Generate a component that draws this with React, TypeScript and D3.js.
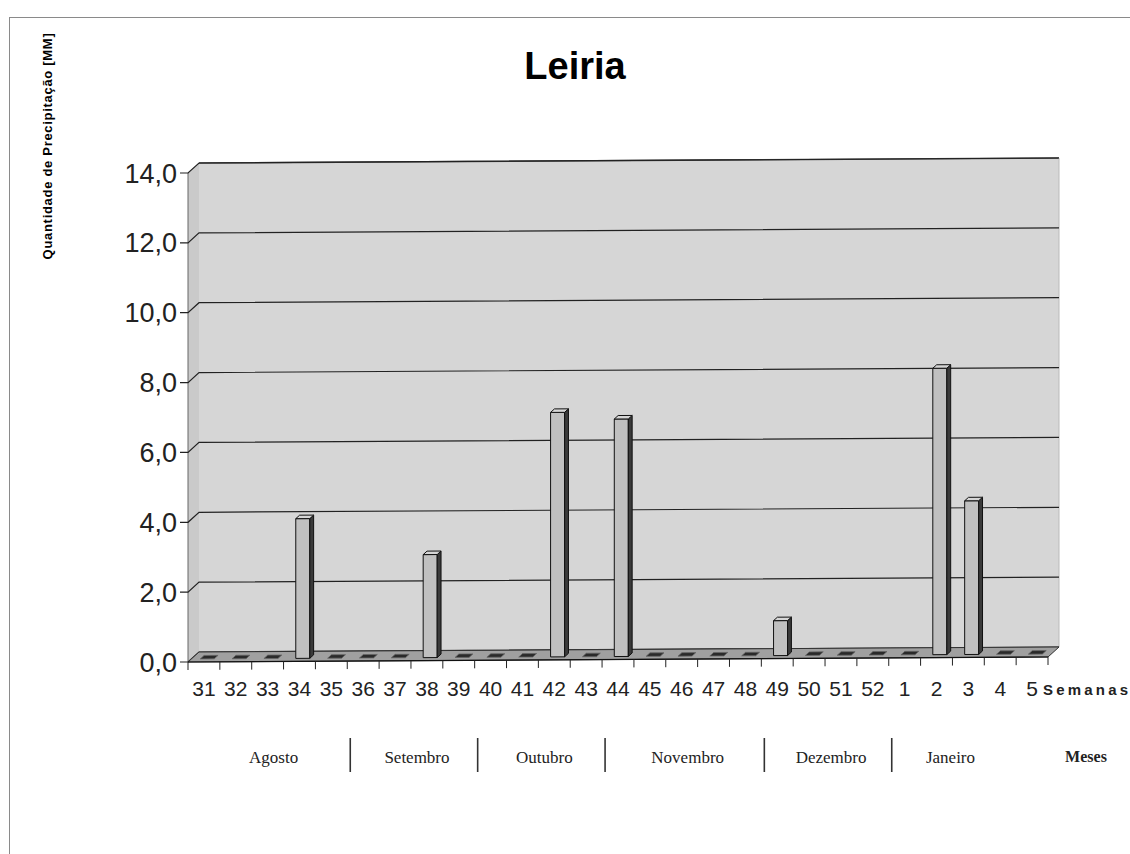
import React from 'react';
import * as d3 from 'd3';

// weekly precipitation, Leiria
const weeks = ['31', '32', '33', '34', '35', '36', '37', '38', '39', '40', '41', '42', '43', '44', '45', '46', '47', '48', '49', '50', '51', '52', '1', '2', '3', '4', '5'];
const precip = [0, 0, 0, 4.0, 0, 0, 0, 2.95, 0, 0, 0, 7.0, 0, 6.8, 0, 0, 0, 0, 1.0, 0, 0, 0, 0, 8.2, 4.4, 0, 0];
const yTicks = [0, 2, 4, 6, 8, 10, 12, 14];
const months = ['Agosto', 'Setembro', 'Outubro', 'Novembro', 'Dezembro', 'Janeiro'];
const monthStart = ['31', '36', '40', '44', '49', '1'];

const W = 1130;
const H = 854;
const X0 = 188, X1 = 1048, Y0 = 662, Y1 = 173;
const DX = 11, DY = 10, SLOPE = 5 / 860;
const SANS = '"Liberation Sans", Arial, sans-serif';
const SERIF = '"Liberation Serif", "Times New Roman", serif';

export default function App() {
  const x = d3.scaleBand<string>().domain(weeks).range([X0, X1]);
  const y = d3.scaleLinear().domain([0, 14]).range([Y0, Y1]);
  const bw = x.bandwidth();
  const fmt = d3.formatLocale({ decimal: ',', thousands: '.', grouping: [3], currency: ['', ''] }).format('.1f');

  // simple oblique projection: depth d in [0,1]
  const P = (px: number, v: number, d: number): [number, number] =>
    [px + d * DX, y(v) - (px - X0) * SLOPE - d * DY];
  const poly = (pts: [number, number][]) => pts.map(p => p.join(',')).join(' ');

  const d1 = 0.3, d2 = 0.65, half = bw * 0.22;
  const edges = d3.range(weeks.length + 1).map(i => X0 + i * bw);

  return (
    <svg width={W} height={H} style={{ position: 'absolute', left: 0, top: 0, background: '#fff' }}>
      <rect x={9.5} y={17.5} width={1300} height={1000} fill="none" stroke="#8a8a8a" />

      <text x={575} y={79} textAnchor="middle" fontFamily={SANS} fontWeight="bold" fontSize={38}>Leiria</text>
      <text transform="translate(52,146) rotate(-90)" textAnchor="middle" fontFamily={SANS}
        fontWeight="bold" fontSize={13} letterSpacing={0.7}>Quantidade de Precipitação [MM]</text>

      {/* walls and floor */}
      <polygon points={poly([P(X0, 0, 1), P(X1, 0, 1), P(X1, 14, 1), P(X0, 14, 1)])} fill="#d6d6d6" />
      <polygon points={poly([P(X0, 0, 0), P(X0, 0, 1), P(X0, 14, 1), P(X0, 14, 0)])} fill="#cacaca" />
      <line x1={P(X0, 14, 1)[0]} y1={P(X0, 14, 1)[1]} x2={P(X1, 14, 1)[0]} y2={P(X1, 14, 1)[1]} stroke="#444" strokeWidth={1.5} />
      <line x1={P(X1, 14, 1)[0]} y1={P(X1, 14, 1)[1]} x2={P(X1, 0, 1)[0]} y2={P(X1, 0, 1)[1]} stroke="#bbb" />
      <line x1={P(X0, 0, 0)[0]} y1={P(X0, 0, 0)[1]} x2={P(X0, 14, 0)[0]} y2={P(X0, 14, 0)[1]} stroke="#666" />

      {yTicks.map(t => {
        const a = P(X0, t, 0), b = P(X0, t, 1), c = P(X1, t, 1);
        return (
          <g key={t}>
            <polyline points={poly([[X0 - 8, y(t)], a, b, c])} fill="none" stroke="#222" strokeWidth={1.2} />
            <text x={177} y={y(t) + 9.5} textAnchor="end" fontFamily={SANS} fontSize={27} fill="#222">{fmt(t)}</text>
          </g>
        );
      })}

      <polygon points={poly([P(X0, 0, 0), P(X1, 0, 0), P(X1, 0, 1), P(X0, 0, 1)])} fill="#a0a0a0" stroke="#333" strokeWidth={1} />

      {/* bars */}
      {weeks.map((w, i) => {
        const v = precip[i];
        const cx = (x(w) as number) + bw / 2;
        const xl = cx - half, xr = cx + half;
        const top = poly([P(xl, v, d1), P(xr, v, d1), P(xr, v, d2), P(xl, v, d2)]);
        if (v === 0) {
          return <polygon key={w} points={top} fill="#2a2a2a" stroke="#666" strokeWidth={0.8} />;
        }
        return (
          <g key={w} stroke="#111" strokeWidth={1}>
            <polygon points={poly([P(xl, 0, d1), P(xr, 0, d1), P(xr, v, d1), P(xl, v, d1)])} fill="#c0c0c0" />
            <polygon points={poly([P(xr, 0, d1), P(xr, 0, d2), P(xr, v, d2), P(xr, v, d1)])} fill="#3a3a3a" />
            <polygon points={top} fill="#d6d6d6" />
          </g>
        );
      })}

      {/* x axis */}
      <line x1={P(X0, 0, 0)[0]} y1={P(X0, 0, 0)[1]} x2={P(X1, 0, 0)[0]} y2={P(X1, 0, 0)[1]} stroke="#111" strokeWidth={1.2} />
      {edges.map((e, i) => {
        const p = P(e, 0, 0);
        return <line key={i} x1={p[0]} y1={p[1]} x2={p[0]} y2={p[1] + 8} stroke="#222" />;
      })}
      {weeks.map(w => (
        <text key={w} x={(x(w) as number) + bw / 2} y={696} textAnchor="middle" fontFamily={SANS} fontSize={21} fill="#222">{w}</text>
      ))}
      <text x={1043} y={695} fontFamily={SANS} fontWeight="bold" fontSize={15} letterSpacing={3.2} fill="#222">Semanas</text>

      {/* months */}
      {months.map((m, i) => {
        const s = x(monthStart[i]) as number;
        const e = i < months.length - 1 ? (x(monthStart[i + 1]) as number) : X1 - bw * 1.5;
        return (
          <g key={m}>
            {i > 0 && <line x1={s + 3} y1={738} x2={s + 3} y2={772} stroke="#333" strokeWidth={1.6} />}
            <text x={(s + e) / 2 + 6} y={763} textAnchor="middle" fontFamily={SERIF} fontSize={17} fill="#222">{m}</text>
          </g>
        );
      })}
      <text x={1086} y={762} textAnchor="middle" fontFamily={SERIF} fontWeight="bold" fontSize={16} fill="#222">Meses</text>
    </svg>
  );
}
